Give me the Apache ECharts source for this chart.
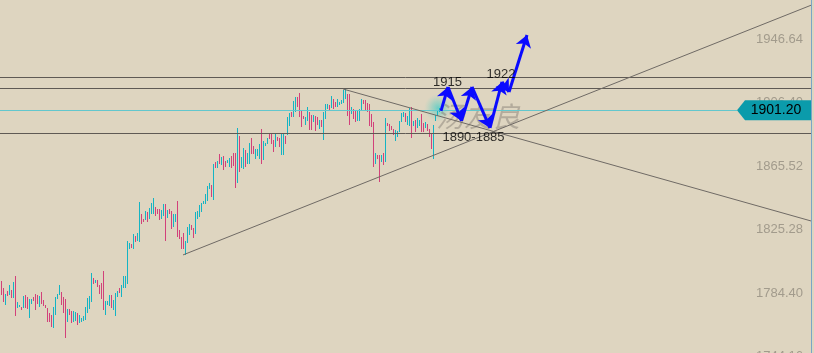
<!DOCTYPE html>
<html>
<head>
<meta charset="utf-8">
<script src="https://cdn.jsdelivr.net/npm/echarts@6/dist/echarts.min.js"></script>
<style>
  html, body { margin: 0; padding: 0; background: #ded5c0; }
  #chart { width: 814px; height: 353px; }
</style>
</head>
<body>
<div id="chart"></div>
<script>
// bar highs / lows (one bar every 2px)
const highs = [
  1792.1,1787.6,1783.8,1785.7,1789.5,1786.3,1791.4,1795.3,1778.7,1776.8,
  1775.5,1782.5,1783.1,1781.9,1780.6,1780.6,1781.9,1783.8,1783.1,1782.5,
  1785.1,1779.9,1776.8,1774.8,1771.6,1770.4,1775.5,1781.9,1783.8,1789.5,
  1785.1,1781.9,1780.6,1774.2,1774.2,1772.9,1772.9,1772.3,1771.6,1770.4,
  1768.4,1769.7,1775.5,1781.2,1782.5,1797.2,1794.0,1792.7,1792.7,1789.5,
  1790.8,1798.5,1779.3,1779.3,1783.1,1783.1,1779.9,1784.4,1785.7,1787.6,
  1789.5,1795.3,1795.3,1817.6,1816.4,1815.7,1822.1,1820.8,1822.7,1842.5,
  1834.9,1831.7,1836.8,1836.1,1838.7,1841.9,1845.1,1839.3,1838.1,1838.1,
  1837.4,1841.3,1841.3,1837.4,1838.1,1836.8,1834.9,1834.9,1843.2,1824.7,
  1820.2,1822.7,1817.6,1826.6,1828.5,1827.8,1825.9,1836.1,1836.8,1840.6,
  1841.9,1843.2,1847.6,1852.8,1854.7,1853.4,1866.8,1868.1,1868.7,1873.2,
  1871.3,1871.9,1868.7,1869.4,1870.6,1871.9,1873.8,1873.8,1889.8,1884.7,
  1871.3,1877.0,1875.7,1873.8,1880.2,1883.4,1878.3,1876.4,1876.4,1879.6,
  1889.2,1881.5,1880.2,1883.4,1886.6,1886.0,1882.1,1886.6,1884.0,1883.4,
  1886.0,1886.6,1884.7,1896.8,1899.4,1900.0,1907.0,1909.6,1909.6,1912.2,
  1900.7,1897.5,1896.8,1903.2,1900.0,1898.1,1898.1,1897.5,1896.8,1894.9,
  1894.9,1900.0,1905.1,1905.1,1904.5,1910.2,1908.3,1906.4,1908.3,1906.4,
  1907.7,1914.1,1915.3,1911.5,1911.5,1903.2,1901.9,1901.3,1900.7,1901.9,
  1908.3,1907.7,1907.7,1905.8,1905.1,1898.7,1893.6,1873.8,1872.6,1872.6,
  1872.6,1873.8,1896.2,1893.0,1892.4,1891.1,1889.2,1888.5,1887.9,1894.3,
  1899.4,1900.0,1899.4,1897.5,1902.6,1903.2,1894.3,1894.9,1896.2,1894.9,
  1898.7,1893.0,1893.6,1892.4,1889.2,1886.6,1891.7,1898.1,1901.3,1902.6
];
const lows = [
  1783.1,1778.7,1776.8,1782.5,1783.1,1781.2,1781.2,1769.7,1774.8,1775.5,
  1773.6,1774.8,1774.8,1774.2,1768.4,1777.4,1779.3,1773.6,1777.4,1775.5,
  1777.4,1776.1,1774.8,1765.9,1765.9,1762.7,1762.1,1770.4,1780.6,1783.1,
  1776.8,1771.6,1755.7,1765.9,1770.4,1765.3,1765.9,1766.5,1764.0,1765.3,
  1765.9,1766.5,1767.2,1771.6,1774.2,1778.7,1790.2,1790.8,1788.2,1783.8,
  1780.6,1773.6,1770.4,1776.8,1776.1,1774.8,1773.6,1769.7,1781.9,1784.4,
  1781.9,1787.6,1787.6,1790.2,1812.5,1813.2,1812.5,1817.0,1817.6,1817.0,
  1828.5,1829.8,1831.0,1829.8,1831.7,1834.9,1834.9,1833.6,1834.9,1831.0,
  1831.7,1833.6,1817.6,1832.3,1834.9,1825.3,1826.6,1829.8,1820.2,1818.9,
  1812.5,1812.5,1808.7,1816.4,1821.5,1824.7,1819.5,1822.1,1831.7,1833.0,
  1836.1,1841.3,1841.3,1843.2,1850.8,1845.7,1843.8,1864.3,1864.3,1866.8,
  1866.2,1863.0,1864.9,1867.4,1864.9,1864.3,1865.5,1851.5,1854.7,1861.7,
  1864.3,1863.6,1864.9,1866.8,1866.8,1873.2,1873.2,1870.0,1871.9,1870.0,
  1866.8,1869.4,1878.3,1879.6,1882.8,1879.6,1874.5,1877.7,1881.5,1877.7,
  1872.6,1872.6,1879.6,1885.3,1891.1,1896.8,1896.8,1900.0,1903.2,1896.8,
  1890.4,1895.5,1891.7,1894.3,1888.5,1888.5,1893.6,1887.9,1891.7,1889.2,
  1890.4,1882.1,1895.5,1901.9,1901.3,1902.6,1901.9,1903.2,1903.2,1904.5,
  1905.1,1905.8,1908.3,1897.5,1891.7,1898.7,1895.5,1893.6,1894.3,1894.3,
  1900.7,1905.1,1901.3,1900.0,1891.1,1890.4,1864.9,1866.8,1870.0,1855.3,
  1868.1,1866.2,1868.1,1891.1,1887.9,1888.5,1885.3,1881.5,1884.0,1887.2,
  1893.6,1896.8,1893.6,1891.7,1891.1,1883.4,1891.1,1887.2,1889.8,1891.1,
  1887.2,1887.2,1889.8,1887.9,1884.0,1876.4,1870.0,1894.3,1897.5,1900.0
];
// 1 = up bar (cyan), 0 = down bar (magenta)
const dirs = [
  0,0,1,0,1,0,1,0,1,1, 0,1,0,0,1,1,0,0,0,1, 0,0,0,0,0,0,1,1,1,1,
  0,0,0,1,0,0,1,1,0,1, 1,1,1,1,1,1,0,1,0,0, 0,0,1,1,1,0,1,1,1,0,
  1,1,1,1,1,0,1,0,1,1, 0,0,1,0,1,1,1,0,0,0, 1,1,0,1,0,0,1,1,0,0,
  0,0,1,1,1,0,0,1,1,1, 1,1,1,1,1,0,1,0,1,0, 1,0,0,1,1,0,0,0,1,0,
  1,1,0,1,1,0,0,1,1,1, 0,1,1,1,0,0,0,1,0,0, 1,1,0,1,1,0,1,1,0,0,
  0,0,1,1,0,0,1,0,0,1, 0,1,1,1,0,1,0,0,1,1, 1,1,1,0,0,1,0,0,1,1,
  1,0,0,0,0,0,0,1,0,0, 1,0,1,0,0,0,0,1,1,1, 1,1,0,1,1,0,1,0,1,1,
  0,0,1,0,0,0,1,1,1,1
];

const lastPrice = 1901.20;
const yTicks = [1744.16, 1784.40, 1825.28, 1865.52, 1906.40, 1946.64];
const levels = [1922.2, 1915.3, 1886.4];
// trend lines: [barIndex, price] pairs
const supportLine = [[91, 1808.7], [405, 1968.2]];
const resistLine = [[171, 1914.7], [405, 1830.4]];
// projected path drawn with arrows
const pathPts = [
  [220, 1900.7], [223.5, 1916.0], [230.25, 1894.3], [235.5, 1916.0],
  [244.5, 1889.8], [250.5, 1919.2], [254, 1912.8], [263, 1949.2]
];
const notes = [
  [223.25, 1919.2, '1915'],
  [250, 1923.9, '1922'],
  [236.25, 1884.0, '1890-1885']
];

const UP = '#14b4c4', DOWN = '#d2417a';
const FONT = 'Liberation Sans, Arial, sans-serif';

let bars = highs.map((h, i) => [i, h, lows[i], dirs[i]]);
let segs = [];
for (let i = 0; i < pathPts.length - 1; i++) {
  segs.push({ coords: [pathPts[i], pathPts[i + 1]] });
}

let chart = echarts.init(document.getElementById('chart'));
chart.setOption({
  backgroundColor: '#ded5c0',
  animation: false,
  grid: { left: 0, width: 811, top: 0, height: 357, outerBoundsMode: 'none', containLabel: false },
  xAxis: {
    type: 'value',
    min: -0.5,
    max: 405,
    show: false
  },
  yAxis: {
    type: 'value',
    position: 'right',
    min: 1743.5,
    max: 1971.55,
    axisLine: { show: true, onZero: false, lineStyle: { color: '#79a6c6', width: 1 } },
    axisTick: { show: false },
    splitLine: { show: false },
    axisLabel: {
      inside: true,
      margin: 8,
      color: '#a29b8c',
      fontSize: 13,
      fontFamily: FONT,
      customValues: yTicks,
      formatter: v => v.toFixed(2)
    }
  },
  series: [
    {
      type: 'custom',
      data: bars,
      encode: { x: 0, y: [1, 2] },
      z: 3,
      renderItem: (params, api) => {
        let top = api.coord([api.value(0), api.value(1)]);
        let bot = api.coord([api.value(0), api.value(2)]);
        return {
          type: 'rect',
          shape: { x: Math.round(top[0]), y: Math.round(top[1]), width: 1, height: Math.max(1, Math.round(bot[1] - top[1])) },
          style: { fill: api.value(3) ? UP : DOWN }
        };
      }
    },
    {
      type: 'line',
      data: [],
      z: 2,
      markLine: {
        silent: true,
        symbol: ['none', 'none'],
        label: { show: false },
        data: [
          ...levels.map(v => ({ yAxis: v, lineStyle: { color: '#5f5a54', width: 1, type: 'solid' } })),
          [{ coord: [-0.5, lastPrice], lineStyle: { color: '#62c7cd', width: 1, type: 'solid' } }, { coord: [368, lastPrice] }],
          [{ coord: supportLine[0], lineStyle: { color: '#6f6a65', width: 1, type: 'solid' } }, { coord: supportLine[1] }],
          [{ coord: resistLine[0], lineStyle: { color: '#6f6a65', width: 1, type: 'solid' } }, { coord: resistLine[1] }]
        ]
      }
    },
    {
      type: 'scatter',
      data: [[bars.length - 1.5, 1902.6]],
      symbolSize: 28,
      z: 1,
      itemStyle: {
        color: {
          type: 'radial', x: 0.5, y: 0.5, r: 0.5,
          colorStops: [
            { offset: 0, color: 'rgba(60,205,200,0.9)' },
            { offset: 0.5, color: 'rgba(100,205,195,0.5)' },
            { offset: 1, color: 'rgba(150,210,195,0)' }
          ]
        }
      },
      silent: true
    },
    {
      type: 'scatter',
      data: [[238.5, 1897.5, '汤友良']],
      symbolSize: 0,
      z: 4,
      silent: true,
      label: {
        show: true,
        position: 'inside',
        formatter: p => p.value[2],
        color: 'rgba(125,118,110,0.55)',
        fontSize: 28,
        fontStyle: 'italic',
        fontFamily: 'Noto Sans CJK SC',
        letterSpacing: 1
      }
    },
    {
      type: 'lines',
      coordinateSystem: 'cartesian2d',
      polyline: false,
      z: 5,
      symbol: ['none', 'arrow'],
      symbolSize: 12,
      lineStyle: { color: '#0a0aff', width: 3, opacity: 1, curveness: 0 },
      data: segs
    },
    {
      type: 'scatter',
      data: notes,
      symbolSize: 0,
      z: 6,
      silent: true,
      label: {
        show: true,
        position: 'inside',
        formatter: p => p.value[2],
        color: '#000',
        fontSize: 13,
        fontFamily: FONT
      }
    },
    {
      type: 'scatter',
      data: [],
      z: 7,
      markPoint: {
        silent: true,
        symbol: 'path://M0,10L8,0L74,0L74,20L8,20Z',
        symbolSize: [74, 20],
        symbolKeepAspect: false,
        itemStyle: { color: '#0b9bab' },
        label: {
          show: true,
          position: 'inside',
          offset: [2, 0],
          color: '#000',
          fontSize: 14,
          fontFamily: FONT,
          formatter: lastPrice.toFixed(2)
        },
        data: [{ coord: [386.5, lastPrice] }]
      }
    }
  ]
});
window.addEventListener('resize', () => { chart.resize() });
</script>
</body>
</html>
